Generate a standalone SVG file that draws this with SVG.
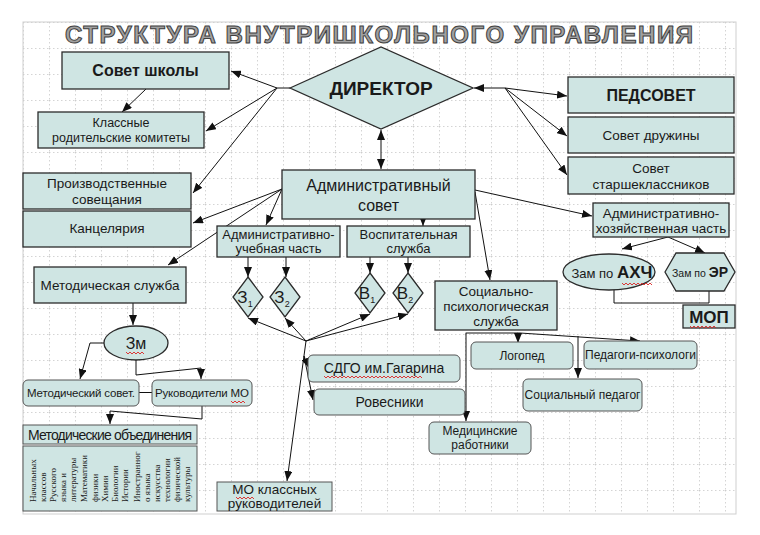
<svg xmlns="http://www.w3.org/2000/svg" width="760" height="535" viewBox="0 0 760 535">
<style>
.bx{fill:#cfe5e3;stroke:#2b2b2b;stroke-width:1.3}
.rb{fill:#cfe5e3;stroke:#555;stroke-width:1}
.t{font-family:"Liberation Sans",Arial,sans-serif;fill:#1a1a1a;text-anchor:middle}
.b{font-weight:bold}
.c{fill:none;stroke:#111;stroke-width:1}
.sq{fill:none;stroke:#d22;stroke-width:0.9}
.vt{font-family:"Liberation Serif","Times New Roman",serif;font-size:9px;fill:#222}
</style>
<defs>
<marker id="ar" viewBox="0 0 10 8" refX="10" refY="4" markerWidth="10" markerHeight="8" markerUnits="userSpaceOnUse" orient="auto-start-reverse">
<path d="M0,0 L10,4 L0,8 Z" fill="#111"/>
</marker>
<pattern id="grid" x="23" y="22" width="26" height="26" patternUnits="userSpaceOnUse">
<path d="M0,0.5 H26 M0.5,0 V26" fill="none" stroke="#c9c9c9" stroke-width="0.8" stroke-dasharray="1.5,2.5"/>
</pattern>
</defs>
<rect width="760" height="535" fill="#fff"/>
<rect x="23" y="22" width="713" height="492" fill="url(#grid)" stroke="#cfcfcf" stroke-width="1"/>
<text x="65" y="43" font-family="Liberation Sans,Arial,sans-serif" font-weight="bold" font-size="24" fill="#a0a0a0" stroke="#404040" stroke-width="1" textLength="628" lengthAdjust="spacing">СТРУКТУРА ВНУТРИШКОЛЬНОГО УПРАВЛЕНИЯ</text>

<g id="connectors">
<path class="c" d="M290,88 H277"/>
<path class="c" d="M277,88 L231,71" marker-end="url(#ar)"/>
<path class="c" d="M277,88 L206,131" marker-end="url(#ar)"/>
<path class="c" d="M277,88 L193,193" marker-end="url(#ar)"/>
<path class="c" d="M146,89 L122,112" marker-end="url(#ar)"/>
<path class="c" d="M505,88 H474" marker-end="url(#ar)"/>
<path class="c" d="M505,88 L567,96" marker-end="url(#ar)"/>
<path class="c" d="M505,88 L567,136" marker-end="url(#ar)"/>
<path class="c" d="M505,88 L567,175" marker-end="url(#ar)"/>
<path class="c" d="M381,130 V169" marker-start="url(#ar)" marker-end="url(#ar)"/>
<path class="c" d="M282,189 L193,223" marker-end="url(#ar)"/>
<path class="c" d="M282,189 L168,265" marker-end="url(#ar)"/>
<path class="c" d="M282,189 L266,225" marker-end="url(#ar)"/>
<path class="c" d="M423,219 V226" marker-end="url(#ar)"/>
<path class="c" d="M475,190 L592,216" marker-end="url(#ar)"/>
<path class="c" d="M475,192 L490,280" marker-end="url(#ar)"/>
<path class="c" d="M248,257 V277" marker-end="url(#ar)"/>
<path class="c" d="M286,257 V277" marker-end="url(#ar)"/>
<path class="c" d="M370,257 V273" marker-end="url(#ar)"/>
<path class="c" d="M408,257 V273" marker-end="url(#ar)"/>
<path class="c" d="M306,341 L248,318" marker-end="url(#ar)"/>
<path class="c" d="M306,341 L285,318" marker-end="url(#ar)"/>
<path class="c" d="M306,341 L370,314" marker-end="url(#ar)"/>
<path class="c" d="M306,341 L408,314" marker-end="url(#ar)"/>
<path class="c" d="M306,341 L287,481" marker-end="url(#ar)"/>
<path class="c" d="M304,356 L309,368" marker-end="url(#ar)"/>
<path class="c" d="M304,356 L313,400" marker-end="url(#ar)"/>
<path class="c" d="M668,237 L622,249" marker-end="url(#ar)"/>
<path class="c" d="M668,237 L705,253" marker-end="url(#ar)"/>
<path class="c" d="M614,290 V303 H709 V291"/>
<path class="c" d="M466,333 H520 L640,341" marker-end="url(#ar)"/>
<path class="c" d="M518,333 V343" marker-end="url(#ar)"/>
<path class="c" d="M578,336 V378" marker-end="url(#ar)"/>
<path class="c" d="M466,333 V421" marker-end="url(#ar)"/>
<path class="c" d="M133,303 V325" marker-end="url(#ar)"/>
<path class="c" d="M104,343 H90 L80,379" marker-end="url(#ar)"/>
<path class="c" d="M136,360 V375 L201,368 V379" marker-end="url(#ar)"/>
<path class="c" d="M139,392.5 H152" stroke-width="3"/>
<path class="c" d="M202,406 V419 L110,411 V424" marker-end="url(#ar)"/>
</g>

<g id="sovet-shkoly"><rect class="bx" x="62" y="52" width="167" height="37"/><text class="t b" x="145.5" y="76" font-size="16">Совет школы</text></g>
<g id="klassnye"><rect class="bx" x="38" y="112" width="166" height="36"/><text class="t" x="121" y="127" font-size="12.5">Классные</text><text class="t" x="121" y="142" font-size="12.5">родительские комитеты</text></g>
<g id="direktor"><polygon class="bx" points="290,88 381,47 473,88 381,129"/><text class="t b" x="381" y="95" font-size="19">ДИРЕКТОР</text></g>
<g id="pedsovet"><rect class="bx" x="568" y="77" width="166" height="36"/><text class="t b" x="651" y="101" font-size="16">ПЕДСОВЕТ</text></g>
<g id="sovet-druzhiny"><rect class="bx" x="568" y="117" width="166" height="36"/><text class="t" x="651" y="140" font-size="13.5">Совет дружины</text></g>
<g id="sovet-starsh"><rect class="bx" x="568" y="157" width="166" height="37"/><text class="t" x="651" y="173" font-size="13.5">Совет</text><text class="t" x="651" y="189" font-size="13.5">старшеклассников</text></g>
<g id="adm-sovet"><rect class="bx" x="282" y="170" width="193" height="49"/><text class="t" x="378.5" y="191" font-size="16">Административный</text><text class="t" x="378.5" y="211" font-size="16">совет</text></g>
<g id="proizv"><rect class="bx" x="23" y="173" width="168" height="36"/><text class="t" x="107" y="188" font-size="13.5">Производственные</text><text class="t" x="107" y="204" font-size="13.5">совещания</text></g>
<g id="kancel"><rect class="bx" x="23" y="211" width="168" height="36"/><text class="t" x="107" y="233" font-size="13.5">Канцелярия</text></g>
<g id="metod-sluzhba"><rect class="bx" x="34" y="267" width="152" height="36"/><text class="t" x="110" y="290" font-size="13.5">Методическая служба</text></g>
<g id="adm-uch"><rect class="bx" x="217" y="226" width="123" height="31"/><text class="t" x="278.5" y="239" font-size="13">Административно-</text><text class="t" x="278.5" y="253" font-size="13">учебная часть</text></g>
<g id="vosp"><rect class="bx" x="347" y="226" width="123" height="31"/><text class="t" x="408.5" y="239" font-size="13">Воспитательная</text><text class="t" x="408.5" y="253" font-size="13">служба</text></g>
<g id="z1"><polygon class="bx" points="248,277 263,297 248,317 233,297"/><text class="t" x="245" y="303" font-size="17">З<tspan font-size="9" dy="4">1</tspan></text></g>
<g id="z2"><polygon class="bx" points="285,277 300,297 285,317 270,297"/><text class="t" x="282" y="303" font-size="17">З<tspan font-size="9" dy="4">2</tspan></text></g>
<g id="v1"><polygon class="bx" points="370,273 385,293 370,313 355,293"/><text class="t" x="367" y="299" font-size="17">В<tspan font-size="9" dy="4">1</tspan></text></g>
<g id="v2"><polygon class="bx" points="408,273 423,293 408,313 393,293"/><text class="t" x="405" y="299" font-size="17">В<tspan font-size="9" dy="4">2</tspan></text></g>
<g id="adm-hoz"><rect class="bx" x="593" y="203" width="136" height="34"/><text class="t" x="661" y="218" font-size="13.5">Административно-</text><text class="t" x="661" y="233" font-size="13.5">хозяйственная часть</text></g>
<g id="zam-ahch"><ellipse class="bx" cx="609" cy="272" rx="46" ry="18"/><text class="t" x="612" y="278" font-size="13"><tspan>Зам по </tspan><tspan class="b" font-size="17">АХЧ</tspan></text><path class="sq" d="M622,283 l2,2 l2,-2 l2,2 l2,-2 l2,2 l2,-2 l2,2 l2,-2 l2,2 l2,-2 l2,2 l2,-2 l2,2 l2,-2 l2,2"/></g>
<g id="zam-er"><polygon class="bx" points="665,272 676,253 724,253 735,272 724,291 676,291"/><text class="t" x="700" y="277" font-size="10.5"><tspan>Зам по </tspan><tspan class="b" font-size="14">ЭР</tspan></text></g>
<g id="mop"><rect class="bx" x="683" y="305" width="52" height="23"/><text class="t b" x="709" y="323" font-size="17">МОП</text><path class="sq" d="M690,326 l2,2 l2,-2 l2,2 l2,-2 l2,2 l2,-2 l2,2 l2,-2 l2,2 l2,-2 l2,2 l2,-2 l2,2"/></g>
<g id="soc-psih"><rect class="bx" x="435" y="281" width="122" height="49"/><text class="t" x="496" y="296" font-size="13.5">Социально-</text><text class="t" x="496" y="311" font-size="13.5">психологическая</text><text class="t" x="496" y="326" font-size="13.5">служба</text></g>
<g id="logoped"><rect class="rb" x="471" y="342" width="102" height="27" rx="5"/><text class="t" x="522" y="360" font-size="12">Логопед</text></g>
<g id="ped-psih"><rect class="rb" x="584" y="341" width="113" height="28" rx="5"/><text class="t" x="640.5" y="359" font-size="12">Педагоги-психологи</text></g>
<g id="soc-ped"><rect class="rb" x="523" y="379" width="119" height="32" rx="5"/><text class="t" x="582.5" y="399" font-size="12">Социальный педагог</text></g>
<g id="med"><rect class="rb" x="429" y="422" width="102" height="32" rx="5"/><text class="t" x="480" y="435" font-size="12">Медицинские</text><text class="t" x="480" y="449" font-size="12">работники</text></g>
<g id="sdgo"><rect class="rb" x="308" y="355" width="152" height="27" rx="5"/><text class="t" x="384" y="373" font-size="14">СДГО им.Гагарина</text><path class="sq" d="M324,376 l2,2 l2,-2 l2,2 l2,-2 l2,2 l2,-2 l2,2 l2,-2 l2,2 l2,-2 l2,2 l2,-2 l2,2 l2,-2 l2,2 l2,-2 l2,2 l2,-2 l2,2 l2,-2 l2,2 l2,-2 l2,2 l2,-2 l2,2 l2,-2 l2,2 l2,-2 l2,2 l2,-2 l2,2 l2,-2 l2,2 l2,-2 l2,2 l2,-2 l2,2 l2,-2 l2,2 l2,-2 l2,2 l2,-2 l2,2 l2,-2 l2,2 l2,-2 l2,2 l2,-2 l2,2"/></g>
<g id="rovesniki"><rect class="rb" x="314" y="389" width="151" height="26" rx="5"/><text class="t" x="389.5" y="407" font-size="14">Ровесники</text></g>
<g id="mo-kl"><rect class="rb" x="217" y="482" width="115" height="29"/><text class="t" x="274.5" y="494" font-size="13.5">МО классных</text><text class="t" x="274.5" y="508" font-size="13.5">руководителей</text><path class="sq" d="M236,497 l2,2 l2,-2 l2,2 l2,-2 l2,2 l2,-2 l2,2 l2,-2 l2,2"/></g>
<g id="zm"><ellipse class="bx" cx="136" cy="343" rx="32" ry="17"/><text class="t" x="136" y="349" font-size="16">Зм</text><path class="sq" d="M126,352 l2,2 l2,-2 l2,2 l2,-2 l2,2 l2,-2 l2,2 l2,-2 l2,2"/></g>
<g id="metod-sovet"><rect class="rb" x="23" y="380" width="116" height="26" rx="5" stroke="#333"/><text class="t" x="81" y="397" font-size="11.5" textLength="108">Методический совет.</text></g>
<g id="ruk-mo"><rect class="rb" x="152" y="380" width="100" height="26" rx="5" stroke="#333"/><text class="t" x="202" y="397" font-size="11.5" textLength="94">Руководители МО</text><path class="sq" d="M231,401 l2,2 l2,-2 l2,2 l2,-2 l2,2 l2,-2 l2,2"/></g>
<g id="metod-obed"><rect class="rb" x="23" y="425" width="174" height="19"/><text class="t" x="110" y="440" font-size="14" textLength="164">Методические объединения</text>
<rect class="rb" x="23" y="446" width="174" height="65"/>
<g class="vt">
<text transform="translate(36,502) rotate(-90)">Начальных</text>
<text transform="translate(46,502) rotate(-90)">классов</text>
<text transform="translate(55.5,502) rotate(-90)">Русского</text>
<text transform="translate(66,502) rotate(-90)">языка и</text>
<text transform="translate(76,502) rotate(-90)">литературы</text>
<text transform="translate(86.5,502) rotate(-90)">Математики</text>
<text transform="translate(98,502) rotate(-90)">физики</text>
<text transform="translate(108,502) rotate(-90)">Химии</text>
<text transform="translate(118,502) rotate(-90)">Биологии</text>
<text transform="translate(128,502) rotate(-90)">Истории</text>
<text transform="translate(139.5,502) rotate(-90)">Иностранног</text>
<text transform="translate(149.5,502) rotate(-90)">о языка</text>
<text transform="translate(159.5,502) rotate(-90)">искусства</text>
<text transform="translate(169.5,502) rotate(-90)">технологии</text>
<text transform="translate(179.5,502) rotate(-90)">физической</text>
<text transform="translate(189.5,502) rotate(-90)">культуры</text>
</g></g>
</svg>
